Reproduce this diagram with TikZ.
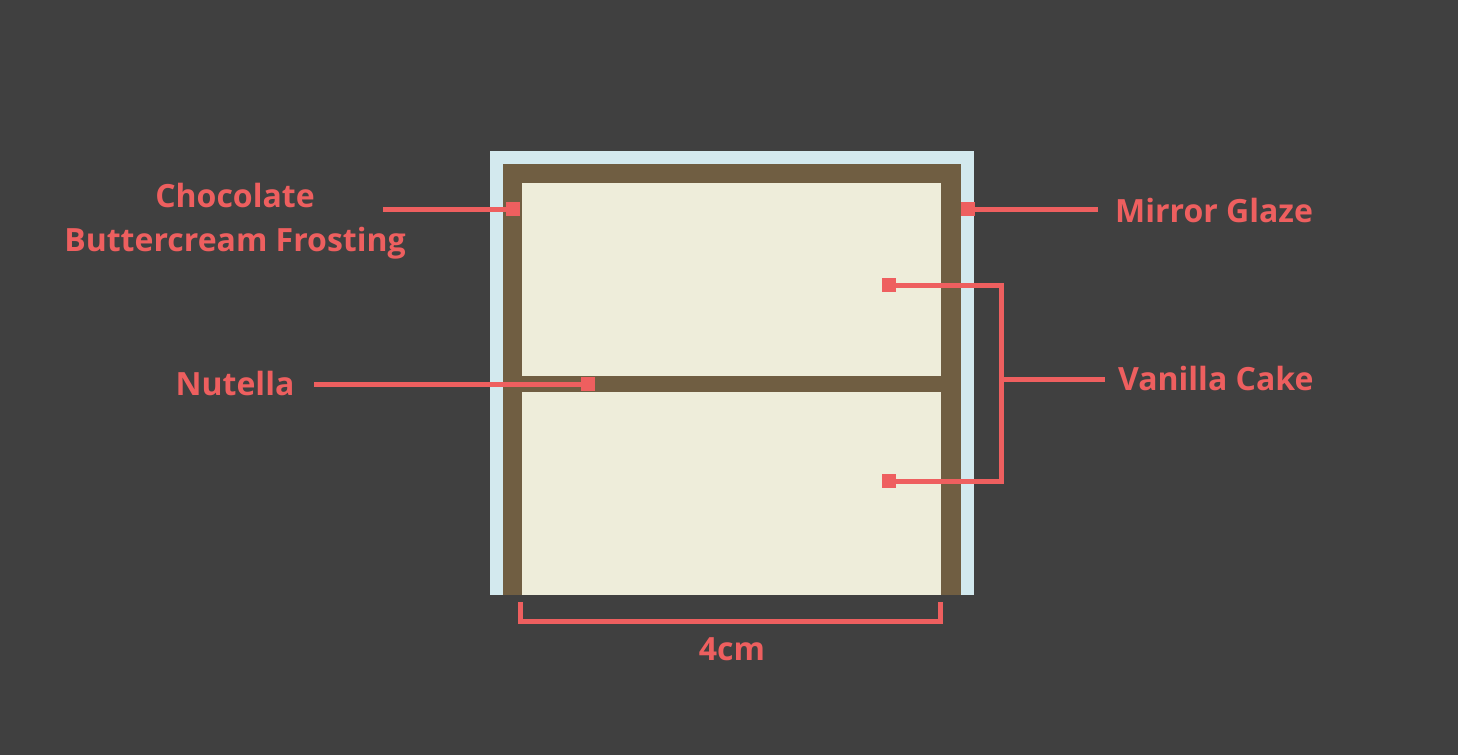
\documentclass[tikz,border=0pt]{standalone}
\usepackage{fontspec}
\setmainfont{Open Sans}
\definecolor{bg}{HTML}{404040}
\definecolor{glaze}{HTML}{D3E9EE}
\definecolor{choc}{HTML}{705E42}
\definecolor{cake}{HTML}{EEEDDA}
\definecolor{lab}{HTML}{EE5F5F}
\tikzset{
  lbl/.style={text=lab, font=\bfseries\fontsize{32}{44}\selectfont, inner sep=0pt},
  lead/.style={draw=lab, line width=5pt, line join=miter},
  marker/.style={fill=lab, draw=none, minimum size=14pt, inner sep=0pt},
}
\begin{document}
\begin{tikzpicture}[x=1pt,y=-1pt]
\fill[bg] (0,0) rectangle (1458,755);
\useasboundingbox (0,0) rectangle (1458,755);
% cake layers
\fill[glaze] (490,151) rectangle (974,595);
\fill[choc] (503,164) rectangle (961,595);
\fill[cake] (522,183) rectangle (941,595);
\fill[choc] (522,376) rectangle (941,392);
% markers
\node[marker] (mchoc) at (513,209) {};
\node[marker] (mglaze) at (968,209) {};
\node[marker] (mnut) at (588,384) {};
\node[marker] (mv1) at (889,285) {};
\node[marker] (mv2) at (889,481) {};
% labels
\node[lbl, align=center] (tchoc) at (235,221) {Chocolate\\Buttercream Frosting};
\node[lbl] (tnut) at (235,383) {Nutella};
\node[lbl, anchor=west] (tglaze) at (1115,210) {Mirror Glaze};
\node[lbl, anchor=west] (tvan) at (1118,378) {Vanilla Cake};
\node[lbl] (tcm) at (732,649) {4cm};
% leaders
\coordinate (cchoc) at (383,209);
\coordinate (cglaze) at (1098,209);
\coordinate (cnut) at (314,384);
\coordinate (cvan) at (1105,379);
\coordinate (bx) at (1001.5,379);
\draw[lead] (cchoc) -- (mchoc.west);
\draw[lead] (mglaze.east) -- (cglaze);
\draw[lead] (cnut) -- (mnut.west);
\draw[lead] (mv1.east) -- (1001.5,285) -- (1001.5,481) -- (mv2.east);
\draw[lead] (bx) -- (cvan);
% dimension bracket
\coordinate (d1) at (520.5,602);
\coordinate (d2) at (940.5,602);
\draw[lead] (d1) -- (520.5,621.5) -- (940.5,621.5) -- (d2);
\end{tikzpicture}
\end{document}
